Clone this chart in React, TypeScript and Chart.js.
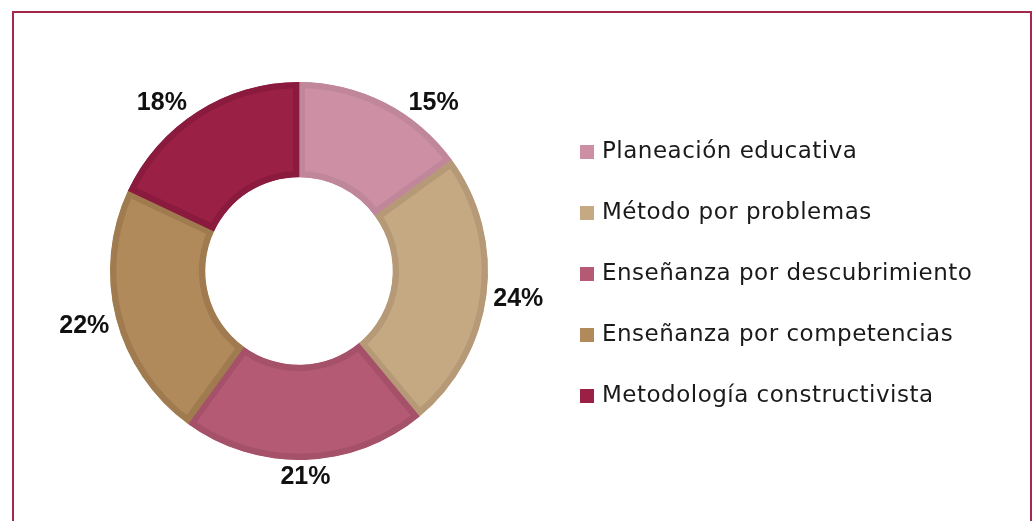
import React, { useEffect, useRef } from "react";
import { Chart, registerables } from "chart.js";

Chart.register(...registerables);

const categories = [
  "Planeación educativa",
  "Método por problemas",
  "Enseñanza por descubrimiento",
  "Enseñanza por competencias",
  "Metodología constructivista",
];
const shares = [15, 24, 21, 22, 18];
const fillColors = ["#cc8fa3", "#c5a983", "#b55a74", "#b08a5a", "#9b2045"];
const edgeColors = ["#c0879a", "#b69976", "#a6516a", "#a07b4f", "#8a1b3e"];

const outLabels = {
  id: "outLabels",
  afterDatasetsDraw(chart: any) {
    const ctx = chart.ctx;
    const meta = chart.getDatasetMeta(0);
    const ds = chart.data.datasets[0];
    ctx.save();
    ctx.font = "bold 25px 'Liberation Sans', Arial, sans-serif";
    ctx.fillStyle = "#111111";
    ctx.textAlign = "center";
    ctx.textBaseline = "middle";
    meta.data.forEach((arc: any, i: number) => {
      const p = arc.getProps(["x", "y", "startAngle", "endAngle", "outerRadius"], true);
      const mid = (p.startAngle + p.endAngle) / 2;
      const text = ds.data[i] + "%";
      const w = ctx.measureText(text).width;
      const h = 20;
      const ux = Math.cos(mid);
      const uy = Math.sin(mid);
      const d = p.outerRadius + 6 + (Math.abs(ux) * w) / 2 + (Math.abs(uy) * h) / 2;
      let lx = p.x + ux * d;
      let ly = p.y + uy * d;
      const topLimit = p.y - p.outerRadius + 11;
      if (ly - h / 2 < topLimit) {
        ly = topLimit + h / 2;
        const dy = ly - p.y;
        const dx = Math.sqrt(Math.max(d * d - dy * dy, 0));
        lx = p.x + Math.sign(ux) * dx;
      }
      ctx.fillText(text, lx, ly);
    });
    ctx.restore();
  },
};

const sideLegend = {
  id: "sideLegend",
  afterDraw(chart: any) {
    const ctx = chart.ctx;
    const ds = chart.data.datasets[0];
    const labels = chart.data.labels as string[];
    const left = chart.chartArea.right - 18;
    const firstBaseline = 158;
    const step = 61;
    ctx.save();
    ctx.font = "23px 'DejaVu Sans', sans-serif";
    try {
      (ctx as any).letterSpacing = "0.5px";
    } catch (e) {}
    ctx.textAlign = "left";
    ctx.textBaseline = "alphabetic";
    labels.forEach((lab, i) => {
      const base = firstBaseline + step * i;
      ctx.fillStyle = ds.backgroundColor[i];
      ctx.fillRect(left, base - 13, 14, 14);
      ctx.fillStyle = "#1a1a1a";
      ctx.fillText(lab, left + 22, base);
    });
    ctx.restore();
  },
};

export default function App() {
  const ref = useRef<HTMLCanvasElement | null>(null);

  useEffect(() => {
    if (!ref.current) return;
    const chart = new Chart(ref.current, {
      type: "doughnut",
      data: {
        labels: categories,
        datasets: [
          {
            data: shares,
            backgroundColor: fillColors,
            borderColor: edgeColors,
            borderWidth: 6,
            borderAlign: "inner",
            hoverOffset: 0,
          } as any,
        ],
      },
      options: {
        responsive: false,
        animation: false,
        devicePixelRatio: 1,
        radius: 189,
        cutout: "49.6%",
        layout: { padding: { left: 0, right: 436, top: 21, bottom: 0 } },
        plugins: {
          legend: { display: false },
          tooltip: { enabled: false },
        },
        events: [],
      } as any,
      plugins: [outLabels, sideLegend],
    });
    return () => chart.destroy();
  }, []);

  return (
    <div
      style={{
        position: "fixed",
        left: 0,
        top: 0,
        width: 1034,
        height: 521,
        overflow: "hidden",
        background: "#ffffff",
      }}
    >
      <div
        style={{
          position: "absolute",
          left: 12,
          top: 11,
          width: 1020,
          height: 530,
          boxSizing: "border-box",
          border: "2px solid #a3294c",
        }}
      />
      <canvas
        ref={ref}
        width={1034}
        height={521}
        style={{ position: "absolute", left: 0, top: 0, width: 1034, height: 521 }}
      />
    </div>
  );
}
